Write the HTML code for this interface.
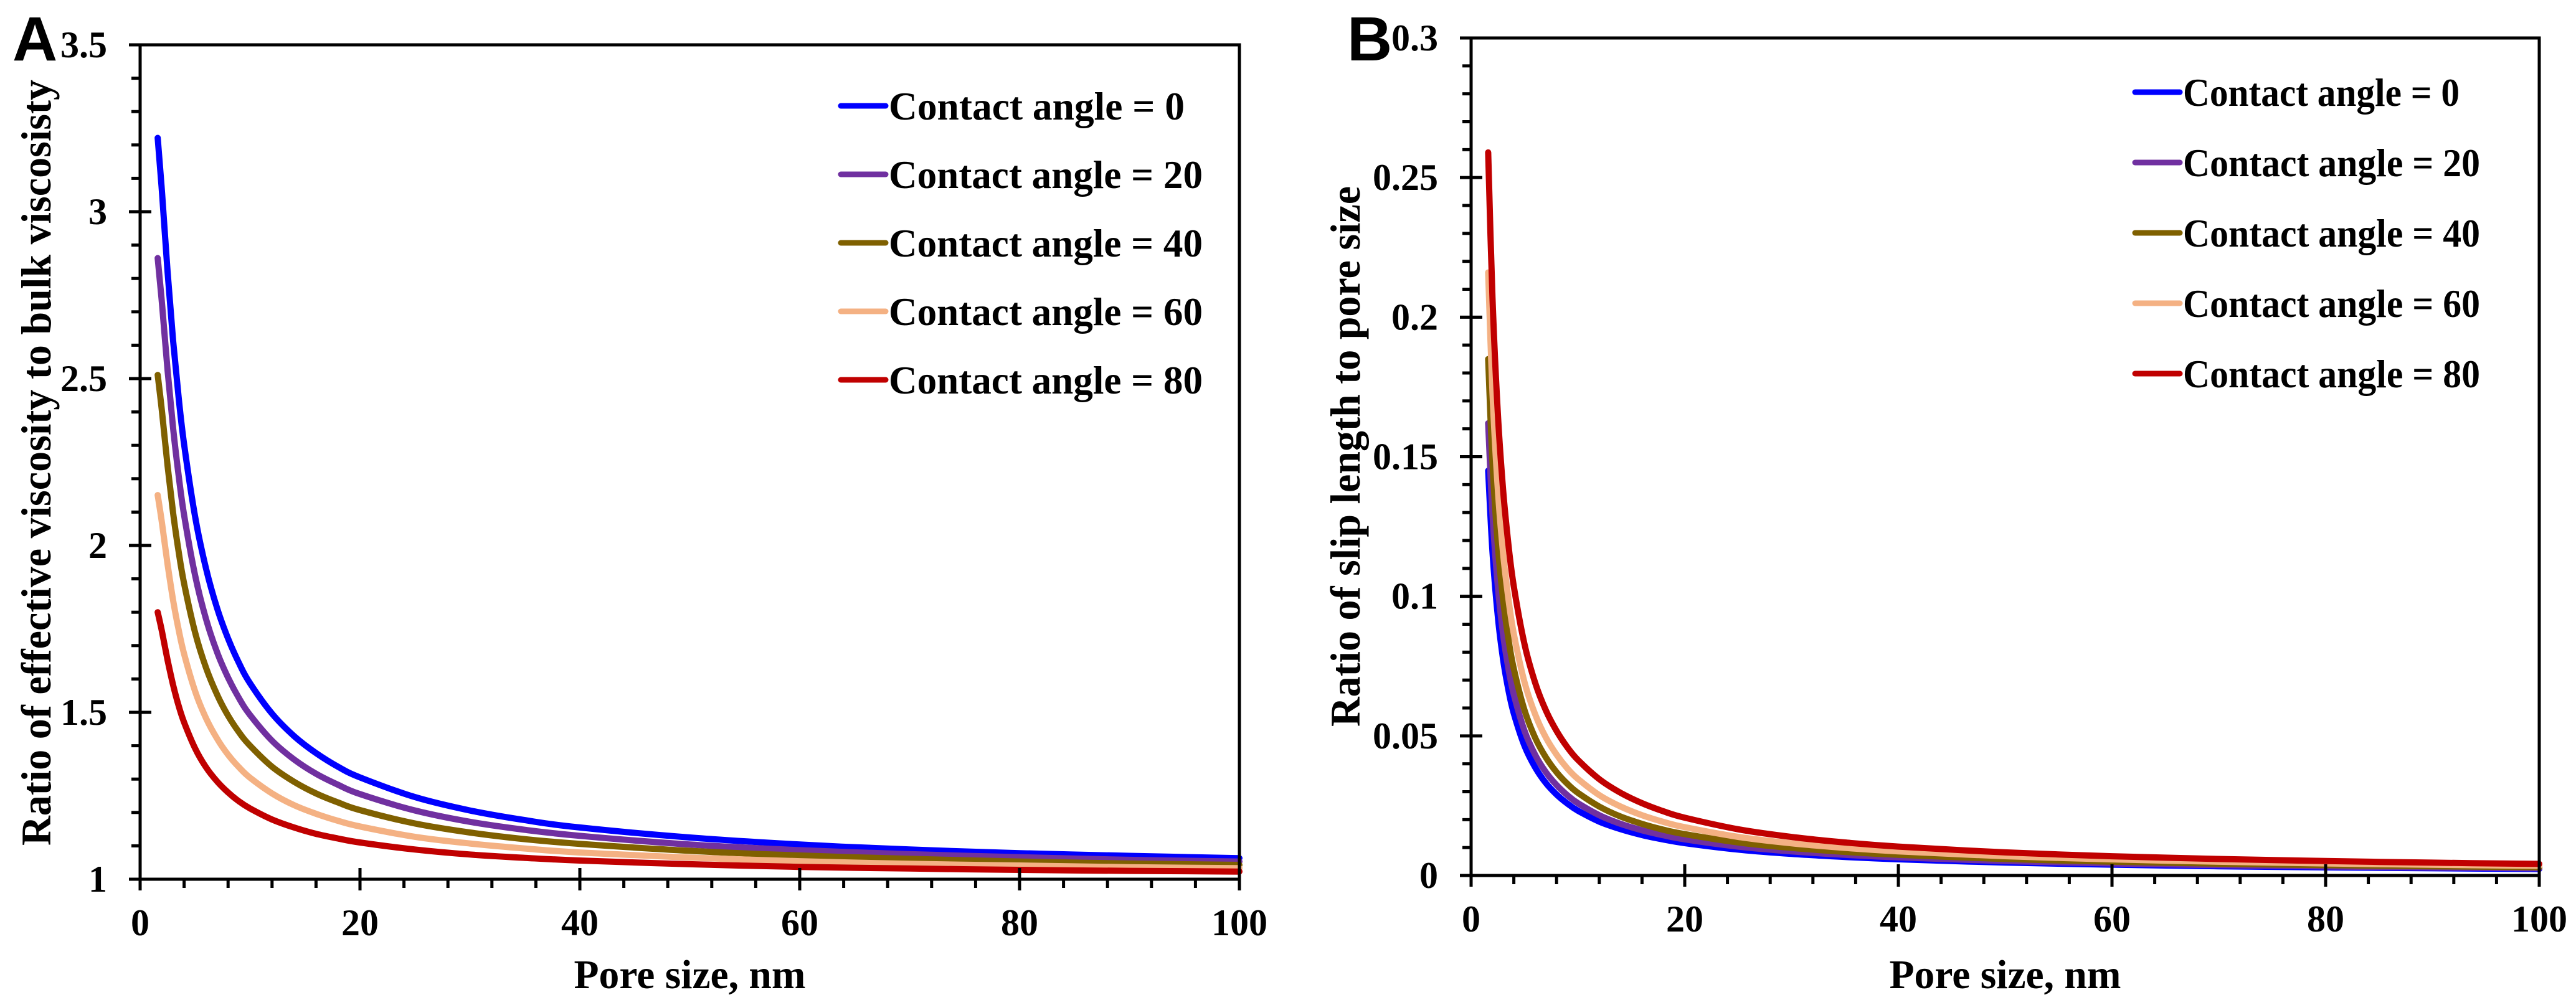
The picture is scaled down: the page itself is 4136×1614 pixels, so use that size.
<!DOCTYPE html>
<html><head><meta charset="utf-8"><style>
html,body{margin:0;padding:0;background:#fff;}
svg{display:block;}
text{font-family:"Liberation Serif",serif;font-weight:bold;fill:#000;}
</style></head><body>
<svg id="fig" width="4136" height="1614" viewBox="0 0 4136 1614" xmlns="http://www.w3.org/2000/svg"></svg>
<script>
const xVals = [1.6,2,2.5,3,3.5,4,5,6,7,8,9,10,12,14,16,18,20,25,30,35,40,50,60,70,80,90,100];
const seriesNames = ["Contact angle = 0","Contact angle = 20","Contact angle = 40","Contact angle = 60","Contact angle = 80"];
const seriesColors = ["#0000FF","#7030A0","#7F6000","#F4B183","#C00000"];
const viscA0  = [3.221,3.053,2.819,2.614,2.444,2.303,2.086,1.930,1.812,1.721,1.647,1.587,1.496,1.429,1.378,1.337,1.305,1.246,1.206,1.177,1.155,1.125,1.104,1.089,1.078,1.070,1.063];
const viscA20 = [2.861,2.720,2.524,2.352,2.210,2.091,1.910,1.779,1.680,1.604,1.542,1.492,1.415,1.359,1.316,1.283,1.255,1.206,1.172,1.148,1.130,1.104,1.087,1.075,1.066,1.058,1.053];
const viscA40 = [2.511,2.397,2.238,2.098,1.982,1.886,1.739,1.633,1.553,1.490,1.440,1.400,1.337,1.292,1.257,1.230,1.207,1.167,1.140,1.120,1.106,1.085,1.071,1.061,1.053,1.047,1.043];
const viscA60 = [2.151,2.064,1.943,1.836,1.748,1.675,1.563,1.482,1.421,1.373,1.335,1.304,1.257,1.222,1.196,1.175,1.158,1.127,1.107,1.092,1.080,1.065,1.054,1.046,1.041,1.036,1.033];
const viscA80 = [1.800,1.740,1.656,1.582,1.520,1.470,1.392,1.335,1.293,1.260,1.233,1.212,1.179,1.155,1.136,1.122,1.110,1.089,1.074,1.064,1.056,1.045,1.037,1.032,1.028,1.025,1.023];
const slipB0  = [0.145,0.116,0.0928,0.0773,0.0663,0.058,0.0464,0.0387,0.0331,0.029,0.0258,0.0232,0.0193,0.0166,0.0145,0.0129,0.0116,0.00928,0.00773,0.00663,0.0058,0.00464,0.00387,0.00331,0.0029,0.00258,0.00232];
const slipB20 = [0.162,0.1295,0.1036,0.0863,0.074,0.0648,0.0518,0.0432,0.037,0.0324,0.0288,0.0259,0.0216,0.0185,0.0162,0.0144,0.01295,0.01036,0.00863,0.0074,0.00648,0.00518,0.00432,0.0037,0.00324,0.00288,0.00259];
const slipB40 = [0.185,0.148,0.1184,0.0987,0.0846,0.074,0.0592,0.0493,0.0423,0.037,0.0329,0.0296,0.0247,0.0211,0.0185,0.0164,0.0148,0.01184,0.00987,0.00846,0.0074,0.00592,0.00493,0.00423,0.0037,0.00329,0.00296];
const slipB60 = [0.216,0.173,0.1384,0.1153,0.0989,0.0865,0.0692,0.0577,0.0494,0.0433,0.0384,0.0346,0.0288,0.0247,0.0216,0.0192,0.0173,0.01384,0.01153,0.00989,0.00865,0.00692,0.00577,0.00494,0.00433,0.00384,0.00346];
const slipB80 = [0.259,0.207,0.1656,0.138,0.1183,0.1035,0.0828,0.069,0.0591,0.0518,0.046,0.0414,0.0345,0.0296,0.0259,0.023,0.0207,0.01656,0.0138,0.01183,0.01035,0.00828,0.0069,0.00591,0.00518,0.0046,0.00414];
const xTicks = [0,20,40,60,80,100];
const yTicksA = [1,1.5,2,2.5,3,3.5];
const yTickLabelsA = ["1","1.5","2","2.5","3","3.5"];
const yTicksB = [0,0.05,0.1,0.15,0.2,0.25,0.3];
const yTickLabelsB = ["0","0.05","0.1","0.15","0.2","0.25","0.3"];

const NS="http://www.w3.org/2000/svg";
const svg=document.getElementById('fig');
function el(tag,attrs,parent){const e=document.createElementNS(NS,tag);for(const k in attrs)e.setAttribute(k,attrs[k]);(parent||svg).appendChild(e);return e;}

function panel(cfg){
  const g=el('g',{});
  
  
  const {L,R,T,B,ymin,ymax,minorY}=cfg;
  const sx=v=>L+(v-0)/(100-0)*(R-L);
  const sy=v=>B-(v-ymin)/(ymax-ymin)*(B-T);
  cfg.series.forEach((ys,i)=>{
    const pts=xVals.map((x,j)=>[sx(x),sy(ys[j])]);
    let d='M'+pts[0][0].toFixed(1)+','+pts[0][1].toFixed(1);
    for(let j=0;j<pts.length-1;j++){
      const p0=pts[Math.max(0,j-1)],p1=pts[j],p2=pts[j+1],p3=pts[Math.min(pts.length-1,j+2)];
      const c1=[p1[0]+(p2[0]-p0[0])/6,p1[1]+(p2[1]-p0[1])/6];
      const c2=[p2[0]-(p3[0]-p1[0])/6,p2[1]-(p3[1]-p1[1])/6];
      d+=' C'+c1[0].toFixed(1)+','+c1[1].toFixed(1)+' '+c2[0].toFixed(1)+','+c2[1].toFixed(1)+' '+p2[0].toFixed(1)+','+p2[1].toFixed(1);
    }
    const p=el('path',{d:d,fill:'none',stroke:seriesColors[i],'stroke-width':10,'stroke-linecap':'round','stroke-linejoin':'round'},g);
    
    
  });
  const fr=el('rect',{x:L,y:T,width:R-L,height:B-T,fill:'none',stroke:'#000','stroke-width':5},g);
  
  
  for(let v=0;v<=100;v+=4){
    const major=v%20===0;const x=sx(v);
    el('line',{x1:x,x2:x,y1:major?B-18:B,y2:major?B+18:B+14,stroke:'#000','stroke-width':5},g);
  }
  xTicks.forEach(v=>{
    const t=el('text',{x:sx(v),y:B+90,'text-anchor':'middle','font-size':60},g);
    t.textContent=String(v);
    
    
  });
  const nMinor=Math.round((ymax-ymin)/minorY);
  for(let k=0;k<=nMinor;k++){
    const v=ymin+k*minorY;const y=sy(v);const major=k%5===0;
    el('line',{x1:major?L-18:L-14,x2:major?L+18:L,y1:y,y2:y,stroke:'#000','stroke-width':5},g);
  }
  cfg.yTicks.forEach((v,i)=>{
    const t=el('text',{x:L-53,y:sy(v)+20,'text-anchor':'end','font-size':60},g);
    t.textContent=cfg.yLabels[i];
    
    
  });
  const xt=el('text',{x:(L+R)/2,y:1587,'text-anchor':'middle','font-size':66,textLength:372,lengthAdjust:'spacingAndGlyphs'},g);
  xt.textContent='Pore size, nm';
  
  
  const yt=el('text',{x:0,y:0,'text-anchor':'middle','font-size':68,textLength:cfg.ytLen,lengthAdjust:'spacingAndGlyphs',transform:'translate('+cfg.ytX+','+cfg.ytY+') rotate(-90)'},g);
  yt.textContent=cfg.ytitle;
  
  
  const pl=el('text',{x:cfg.letterX,y:97,'font-size':100,style:'font-family:"Liberation Sans",sans-serif;font-weight:bold'},g);
  pl.textContent=cfg.letter;
  
  
  seriesNames.forEach((n,i)=>{
    const y=cfg.legY+i*cfg.legDy;
    const lg=el('g',{},g);
    
    
    el('line',{x1:cfg.legX,x2:cfg.legX+72,y1:y,y2:y,stroke:seriesColors[i],'stroke-width':9,'stroke-linecap':'round'},lg);
    const t=el('text',{x:cfg.legX+77,y:y+22,'font-size':64,textLength:(i===0?cfg.legW0:cfg.legW1),lengthAdjust:'spacingAndGlyphs'},lg);
    t.textContent=n;
  });
}

panel({name:'panel-a-viscosity-chart',prefix:'a',letter:'A',letterX:20,L:225,R:1990,T:72,B:1412,ymin:1,ymax:3.5,minorY:0.1,
  series:[viscA0,viscA20,viscA40,viscA60,viscA80],yTicks:yTicksA,yLabels:yTickLabelsA,
  ytitle:'Ratio of effective viscosity to bulk viscosisty',ytX:81,ytY:743,ytLen:1230,
  legX:1350,legY:170,legDy:110,legW0:475,legW1:504});
panel({name:'panel-b-slip-length-chart',prefix:'b',letter:'B',letterX:2163,L:2362,R:4077,T:61,B:1406,ymin:0,ymax:0.3,minorY:0.01,
  series:[slipB0,slipB20,slipB40,slipB60,slipB80],yTicks:yTicksB,yLabels:yTickLabelsB,
  ytitle:'Ratio of slip length to pore size',ytX:2183,ytY:733,ytLen:868,
  legX:3428,legY:148,legDy:113,legW0:444,legW1:477});
</script>
</body></html>
